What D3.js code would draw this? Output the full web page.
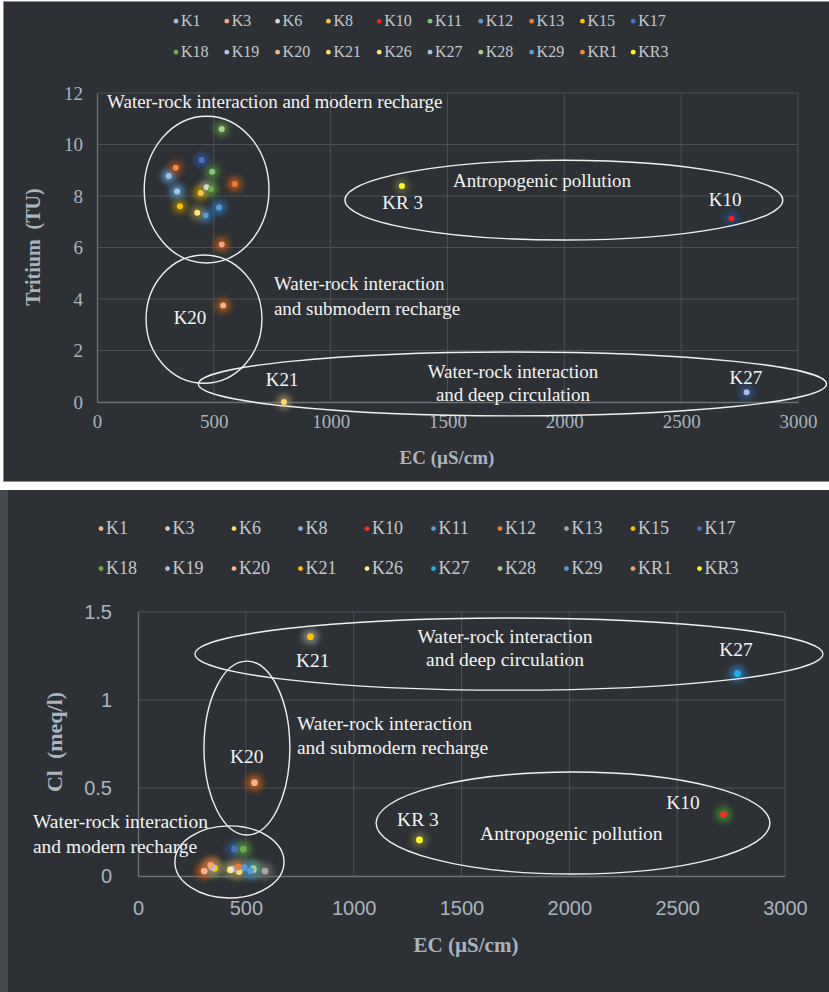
<!DOCTYPE html>
<html>
<head>
<meta charset="utf-8">
<script src="https://cdn.jsdelivr.net/npm/d3@7"></script>
<style>
  html, body { margin: 0; padding: 0; background: #ffffff; }
  svg { display: block; }
  text { white-space: pre; }
</style>
</head>
<body>
<svg id="fig" width="829" height="992"></svg>
<script>
// Sampling points
const series = ["K1","K3","K6","K8","K10","K11","K12","K13","K15","K17",
                "K18","K19","K20","K21","K26","K27","K28","K29","KR1","KR3"];
// Electrical conductivity, µS/cm
const ecValues = [307, 534, 469, 444, 2715, 493, 465, 589, 355, 448,
                  488, 343, 540, 800, 429, 2780, 534, 522, 337, 1305];
// Tritium, TU
const tritiumValues = [8.78, 6.12, 8.34, 8.12, 7.13, 8.94, 7.24, 8.47, 7.60, 9.40,
                       8.27, 8.17, 3.75, 0.0, 7.35, 0.38, 10.6, 7.55, 9.10, 8.39];
// Chloride, meq/l
const chlorideValues = [0.028, 0.035, 0.025, 0.040, 0.35, 0.047, 0.052, 0.028, 0.044, 0.153,
                        0.153, 0.050, 0.53, 1.36, 0.036, 1.15, 0.042, 0.030, 0.062, 0.205];

const ecTicks = [0, 500, 1000, 1500, 2000, 2500, 3000];
const tritiumTicks = [0, 2, 4, 6, 8, 10, 12];
const chlorideTicks = [0, 0.5, 1, 1.5];

// Marker palettes (dot / glow) for each panel
const topColors = ["#9cc0e2","#f2a27c","#d4d4d4","#f5c242","#ff1a1a","#86c47c","#5b9bd5","#ee7d31","#ffc000","#4472c4",
                   "#70ad47","#a5c8ea","#f4b38c","#ffd966","#ffe27a","#a9bde6","#a9d18e","#5b9bd5","#f08a4b","#ffff1a"];
const topGlow   = ["#5b9bd5","#c55a11","#8a8a8a","#bf9000","#1f4e8c","#4e8a34","#2e75b6","#c55a11","#9c7a00","#2f5597",
                   "#4e8a34","#5b9bd5","#c55a11","#a08a60","#8a7a30","#2f5597","#5a8f3c","#2e75b6","#b04a15","#6a6a40"];
const bottomColors = ["#f4b38c","#cfcfcf","#ffd966","#8faadc","#ff2a1a","#5b9bd5","#ee7d31","#a5a5a5","#ffc000","#4472c4",
                      "#70ad47","#a5c8ea","#f4b38c","#ffc000","#ffe699","#19b4f0","#a9d18e","#5b9bd5","#f4a070","#ffff1a"];
const bottomGlow   = ["#c55a11","#7a7a7a","#9c8a30","#2f5597","#3a8a2a","#2e75b6","#c55a11","#6a6a6a","#8a8a20","#2f5597",
                      "#4e8a34","#5b9bd5","#c55a11","#8a8a8a","#8a8a50","#2e75b6","#5a8f3c","#2e75b6","#c55a11","#6a6a40"];

// Annotation groups: ellipses and labels placed in data units
const topEllipses = [
  {cx: 469, cy: 8.25, rx: 267, ry: 2.85},
  {cx: 458, cy: 3.22, rx: 248, ry: 2.49},
  {cx: 1778, cy: 0.70, rx: 1344, ry: 1.24},
  {cx: 1998, cy: 7.84, rx: 937, ry: 1.55}
];
const topLabels = [
  {x: 43,   y: 11.42, t: "Water-rock interaction and modern recharge", a: "start"},
  {x: 757,  y: 4.35,  t: "Water-rock interaction", a: "start"},
  {x: 757,  y: 3.38,  t: "and submodern recharge", a: "start"},
  {x: 398,  y: 3.03,  t: "K20", a: "middle"},
  {x: 792,  y: 0.62,  t: "K21", a: "middle"},
  {x: 1780, y: 0.93,  t: "Water-rock interaction", a: "middle"},
  {x: 1780, y: 0.04,  t: "and deep circulation", a: "middle"},
  {x: 2777, y: 0.70,  t: "K27", a: "middle"},
  {x: 1524, y: 8.35,  t: "Antropogenic pollution", a: "start"},
  {x: 1308, y: 7.50,  t: "KR 3", a: "middle"},
  {x: 2688, y: 7.61,  t: "K10", a: "middle"}
];
const bottomEllipses = [
  {cx: 1720, cy: 1.261, rx: 1456, ry: 0.205},
  {cx: 505,  cy: 0.727, rx: 199,  ry: 0.494},
  {cx: 424,  cy: 0.080, rx: 253,  ry: 0.205},
  {cx: 2017, cy: 0.301, rx: 913,  ry: 0.29}
];
const bottomLabels = [
  {x: 810,  y: 1.187, t: "K21", a: "middle"},
  {x: 1702, y: 1.324, t: "Water-rock interaction", a: "middle"},
  {x: 1702, y: 1.193, t: "and deep circulation", a: "middle"},
  {x: 2773, y: 1.25,  t: "K27", a: "middle"},
  {x: 504,  y: 0.642, t: "K20", a: "middle"},
  {x: 737,  y: 0.83,  t: "Water-rock interaction", a: "start"},
  {x: 737,  y: 0.693, t: "and submodern recharge", a: "start"},
  {x: -487, y: 0.273, t: "Water-rock interaction", a: "start"},
  {x: -487, y: 0.131, t: "and modern recharge", a: "start"},
  {x: 1298, y: 0.284, t: "KR 3", a: "middle"},
  {x: 1586, y: 0.205, t: "Antropogenic pollution", a: "start"},
  {x: 2527, y: 0.38,  t: "K10", a: "middle"}
];

const SERIF = "'Liberation Serif','Times New Roman',serif";
const SANS = "'Liberation Sans',Arial,sans-serif";
const PANEL = "#2d3135";
const GRID = "#4b5054";
const AXIS = "#6c7176";
const TICK = "#aab4be";
const NOTE = "#f4f4f4";

const svg = d3.select("#fig");

// soft halo behind each marker
const defs = svg.append("defs");
defs.append("filter").attr("id", "glow").attr("x", "-100%").attr("y", "-100%")
  .attr("width", "300%").attr("height", "300%")
  .append("feGaussianBlur").attr("stdDeviation", 3);

// panel backgrounds
svg.append("rect").attr("x", 0).attr("y", 0).attr("width", 829).attr("height", 992).attr("fill", "#ffffff");
svg.append("rect").attr("x", 3.5).attr("y", 1.5).attr("width", 826).attr("height", 480)
  .attr("fill", PANEL).attr("stroke", "#8a8d90").attr("stroke-width", 1);
svg.append("rect").attr("x", 0).attr("y", 490).attr("width", 8).attr("height", 502).attr("fill", "#45494d");
svg.append("rect").attr("x", 8).attr("y", 490).attr("width", 821).attr("height", 502).attr("fill", PANEL);

function drawPanel(cfg) {
  const g = svg.append("g");
  const x = d3.scaleLinear().domain([0, 3000]).range([cfg.left, cfg.right]);
  const y = d3.scaleLinear().domain(cfg.yDomain).range([cfg.bottom, cfg.top]);

  // gridlines
  g.append("g").selectAll("line").data(cfg.yTicks.filter(d => d !== 0)).join("line")
    .attr("x1", cfg.left).attr("x2", cfg.right)
    .attr("y1", d => y(d)).attr("y2", d => y(d))
    .attr("stroke", GRID).attr("stroke-width", 1);
  g.append("g").selectAll("line").data(ecTicks.filter(d => d !== 0)).join("line")
    .attr("x1", d => x(d)).attr("x2", d => x(d))
    .attr("y1", cfg.top).attr("y2", cfg.bottom)
    .attr("stroke", GRID).attr("stroke-width", 1);

  // axes
  const xAxis = d3.axisBottom(x).tickValues(ecTicks).tickSize(0).tickPadding(cfg.xPad).tickFormat(d3.format("d"));
  const yAxis = d3.axisLeft(y).tickValues(cfg.yTicks).tickSize(0).tickPadding(cfg.yPad).tickFormat(cfg.yFormat);
  const gx = g.append("g").attr("transform", `translate(0,${cfg.bottom})`).call(xAxis);
  const gy = g.append("g").attr("transform", `translate(${cfg.left},0)`).call(yAxis);
  [gx, gy].forEach(a => {
    a.attr("font-family", null).attr("font-size", null);
    a.select(".domain").attr("stroke", AXIS).attr("stroke-width", 1.3);
    a.selectAll("text").attr("fill", TICK).style("font-family", cfg.tickFont)
      .style("font-size", cfg.tickSize + "px");
  });
  gx.selectAll("text").attr("dy", "0.71em");

  // axis titles
  g.append("text").attr("x", cfg.xTitle[0]).attr("y", cfg.xTitle[1])
    .attr("text-anchor", "middle").attr("fill", TICK)
    .style("font-family", SERIF).style("font-weight", "bold").style("font-size", cfg.titleSize + "px")
    .text("EC (µS/cm)");
  g.append("text").attr("transform", `translate(${cfg.yTitle[0]},${cfg.yTitle[1]}) rotate(-90)`)
    .attr("text-anchor", "middle").attr("fill", TICK)
    .style("font-family", SERIF).style("font-weight", "bold").style("font-size", cfg.yTitleSize + "px")
    .text(cfg.yLabel);

  // legend
  const leg = g.append("g");
  series.forEach((s, i) => {
    const row = Math.floor(i / 10), col = i % 10;
    const lx = cfg.legX + col * cfg.legStep, ly = cfg.legY[row];
    leg.append("circle").attr("cx", lx).attr("cy", ly - cfg.legSize * 0.3).attr("r", 2.4)
      .attr("fill", cfg.colors[i]);
    leg.append("text").attr("x", lx + 5).attr("y", ly).attr("fill", "#c3c8cd")
      .style("font-family", SERIF).style("font-size", cfg.legSize + "px").text(s);
  });

  // points with halo
  const pts = g.append("g");
  series.forEach((s, i) => {
    pts.append("circle").attr("cx", x(ecValues[i])).attr("cy", y(cfg.values[i])).attr("r", cfg.glowR)
      .attr("fill", cfg.glow[i]).attr("opacity", 0.85).attr("filter", "url(#glow)");
  });
  series.forEach((s, i) => {
    pts.append("circle").attr("cx", x(ecValues[i])).attr("cy", y(cfg.values[i])).attr("r", cfg.dotR)
      .attr("fill", cfg.colors[i]);
  });

  // annotation ellipses
  g.append("g").selectAll("ellipse").data(cfg.ellipses).join("ellipse")
    .attr("cx", d => x(d.cx)).attr("cy", d => y(d.cy))
    .attr("rx", d => x(d.rx) - x(0)).attr("ry", d => y(0) - y(d.ry))
    .attr("fill", "none").attr("stroke", "#f0f0f0").attr("stroke-width", 1.4);

  // annotation text
  g.append("g").selectAll("text").data(cfg.labels).join("text")
    .attr("x", d => x(d.x)).attr("y", d => y(d.y)).attr("text-anchor", d => d.a)
    .attr("fill", NOTE).style("font-family", SERIF)
    .style("font-size", cfg.noteSize + "px")
    .text(d => d.t);
}

drawPanel({
  left: 97, right: 798, top: 93, bottom: 402,
  yDomain: [0, 12], yTicks: tritiumTicks, yFormat: d3.format("d"),
  values: tritiumValues, colors: topColors, glow: topGlow,
  tickFont: SERIF, tickSize: 19, xPad: 13, yPad: 14,
  xTitle: [447, 464], yTitle: [40, 247], yLabel: "Tritium  (TU)", titleSize: 19, yTitleSize: 20,
  legX: 176, legStep: 50.8, legY: [26, 57], legSize: 16,
  glowR: 7, dotR: 3,
  ellipses: topEllipses, labels: topLabels, noteSize: 19
});

drawPanel({
  left: 138, right: 785, top: 612, bottom: 876,
  yDomain: [0, 1.5], yTicks: chlorideTicks, yFormat: d => d3.format("")(d),
  values: chlorideValues, colors: bottomColors, glow: bottomGlow,
  tickFont: SANS, tickSize: 20, xPad: 25, yPad: 26,
  xTitle: [466, 952], yTitle: [62, 742], yLabel: "Cl  (meq/l)", titleSize: 21, yTitleSize: 22,
  legX: 101, legStep: 66.5, legY: [534, 574], legSize: 18,
  glowR: 8, dotR: 3.4,
  ellipses: bottomEllipses, labels: bottomLabels, noteSize: 19.5
});
</script>
</body>
</html>
